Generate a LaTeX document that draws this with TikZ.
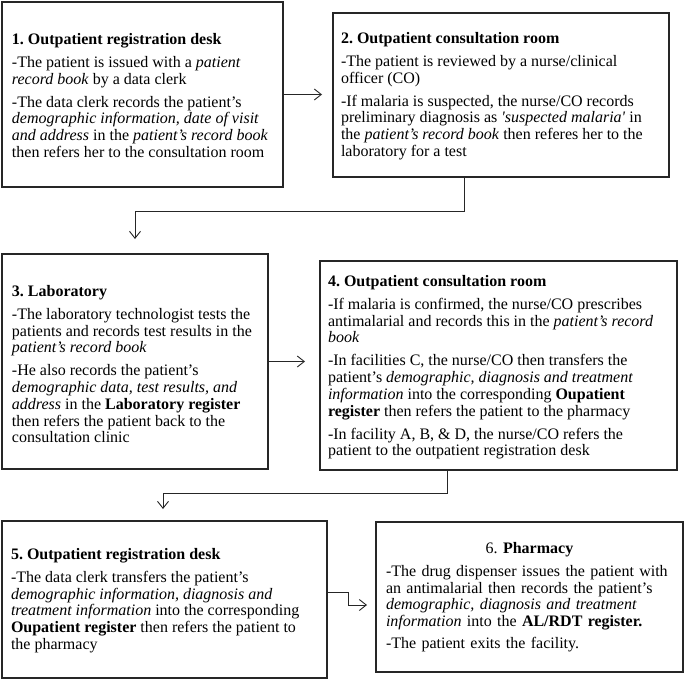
\documentclass[tikz,border=0pt]{standalone}
\usepackage{fontspec}
\setmainfont{Liberation Serif}
\usetikzlibrary{arrows.meta}
\frenchspacing
\begin{document}
\begin{tikzpicture}[x=1pt,y=-1pt,
  box/.style={draw=black!85, line width=1.1pt, inner sep=0pt, outer sep=0pt, rectangle},
  txt/.style={anchor=north west, inner sep=0pt, outer sep=0pt, align=left,
    font=\fontsize{16}{16.7}\selectfont\frenchspacing},
  arr/.style={draw=black!85, line width=0.9pt, -{Straight Barb[length=7pt,width=11pt]}}]
\useasboundingbox (0,0) rectangle (685,680);
\fill[white] (0,0) rectangle (685,680);
% boxes
\node[box, minimum width=281pt, minimum height=185pt] (b1) at (142.5,94.5) {};
\node[box, minimum width=336pt, minimum height=164pt] (b2) at (501,95) {};
\node[box, minimum width=266pt, minimum height=215pt] (b3) at (135,361.5) {};
\node[box, minimum width=357pt, minimum height=209pt] (b4) at (498.5,365.5) {};
\node[box, minimum width=325pt, minimum height=157pt] (b5) at (164.5,599.5) {};
\node[box, minimum width=307pt, minimum height=150pt] (b6) at (529.5,597) {};
% texts
\node[txt] (t1) at (12,33) {\textbf{1. Outpatient registration desk}\\[6.5pt]
-The patient is issued with a \textit{patient}\\
\textit{record book} by a data clerk\\[6.5pt]
-The data clerk records the patient's\\
\textit{demographic information, date of visit}\\
\textit{and address} in the \textit{patient's record book}\\
then refers her to the consultation room};
\node[txt] (t2) at (341,32) {\textbf{2. Outpatient consultation room}\\[6.5pt]
-The patient is reviewed by a nurse/clinical\\
officer (CO)\\[6.5pt]
-If malaria is suspected, the nurse/CO records\\
preliminary diagnosis as \textit{\textquotesingle suspected malaria\textquotesingle} in\\
the \textit{patient's record book} then referes her to the\\
laboratory for a test};
\node[txt] (t3) at (12,285) {\textbf{3. Laboratory}\\[6.5pt]
-The laboratory technologist tests the\\
patients and records test results in the\\
\textit{patient's record book}\\[6.5pt]
-He also records the patient's\\
\textit{demographic data, test results, and}\\
\textit{address} in the \textbf{Laboratory register}\\
then refers the patient back to the\\
consultation clinic};
\node[txt] (t4) at (328,275) {\textbf{4. Outpatient consultation room}\\[6.5pt]
-If malaria is confirmed, the nurse/CO prescribes\\
antimalarial and records this in the \textit{patient's record}\\
\textit{book}\\[6.5pt]
-In facilities C, the nurse/CO then transfers the\\
patient's \textit{demographic, diagnosis and treatment}\\
\textit{information} into the corresponding \textbf{Oupatient}\\
\textbf{register} then refers the patient to the pharmacy\\[6.5pt]
-In facility A, B, \& D, the nurse/CO refers the\\
patient to the outpatient registration desk};
\node[txt] (t5) at (11,548) {\textbf{5. Outpatient registration desk}\\[6.5pt]
-The data clerk transfers the patient's\\
\textit{demographic information, diagnosis and}\\
\textit{treatment information} into the corresponding\\
\textbf{Oupatient register} then refers the patient to\\
the pharmacy};
\node[txt, text width=287pt] (t6) at (386,542) {\makebox[\linewidth][c]{6. \textbf{Pharmacy}}\\[6.5pt]
-The drug dispenser issues the patient with\\
an antimalarial then records the patient's\\
\textit{demographic, diagnosis and treatment}\\
\textit{information} into the \textbf{AL/RDT register.}\\[5pt]
-The patient exits the facility.};
% connectors
\coordinate (j23) at (464,211);
\coordinate (e3) at (135,254);
\coordinate (j45) at (447,493);
\coordinate (e5) at (163,521);
\coordinate (k1) at (348,592);
\coordinate (k2) at (348,605);
\draw[arr, shorten >=11pt] (b1.east) -- (b1.east -| b2.west);
\draw[arr, shorten >=15pt] (b2.south -| j23) -- (j23) -| (b3.north -| e3);
\draw[arr, shorten >=15pt] (b3.east) -- (b3.east -| b4.west);
\draw[arr, shorten >=12pt] (b4.south -| j45) -- (j45) -| (b5.north -| e5);
\draw[arr, shorten >=9pt] (b5.east |- k1) -- (k1) -- (k2) -- (b6.west |- k2);
\end{tikzpicture}
\end{document}
